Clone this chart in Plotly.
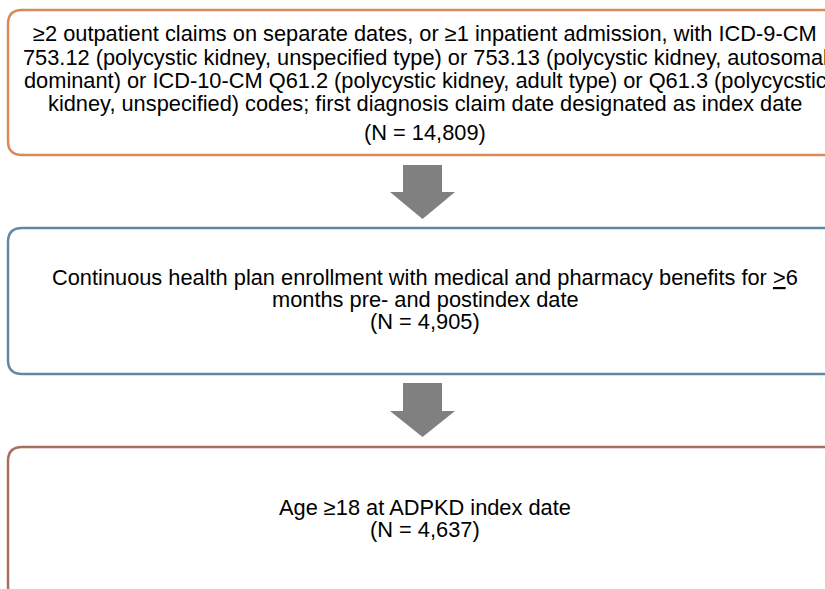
import plotly.graph_objects as go

# ---- data ----
step_lines = [
    ["≥2 outpatient claims on separate dates, or ≥1 inpatient admission, with ICD-9-CM",
     "753.12 (polycystic kidney, unspecified type) or 753.13 (polycystic kidney, autosomal",
     "dominant) or ICD-10-CM Q61.2 (polycystic kidney, adult type) or Q61.3 (polycycstic",
     "kidney, unspecified) codes; first diagnosis claim date designated as index date"],
    ["Continuous health plan enrollment with medical and pharmacy benefits for <u>></u>6",
     "months pre- and postindex date"],
    ["Age ≥18 at ADPKD index date"],
]
n_values = [14809, 4905, 4637]

# ---- layout / style ----
W, H = 825, 589
box_colors = ["#D9895A", "#6387A6", "#A96E61"]
box_y = [(10, 155), (228, 374), (447, 600)]
box_x = (8, 842)
radius = 14
line_y = [[33, 57, 80, 103], [277, 299], [507]]
n_y = [132, 321, 529]
arrow_y = [(165, 192, 219), (383, 411, 437)]
cx = 425
FONT = "Liberation Sans, Arial, sans-serif"
FS = 21.8

fig = go.Figure()
shapes = []
annotations = []

def rrect(x0, y0, x1, y1, r):
    return (f"M {x0+r},{y0} L {x1-r},{y0} Q {x1},{y0} {x1},{y0+r} "
            f"L {x1},{y1-r} Q {x1},{y1} {x1-r},{y1} L {x0+r},{y1} "
            f"Q {x0},{y1} {x0},{y1-r} L {x0},{y0+r} Q {x0},{y0} {x0+r},{y0} Z")

for i, lines in enumerate(step_lines):
    y0, y1 = box_y[i]
    shapes.append(dict(type="path", path=rrect(box_x[0], y0, box_x[1], y1, radius),
                       xref="x", yref="y", line=dict(color=box_colors[i], width=2.5),
                       fillcolor="white", layer="below"))
    for ln, yy in zip(lines, line_y[i]):
        annotations.append(dict(x=cx, y=yy, xref="x", yref="y", text=ln, showarrow=False,
                                xanchor="center", yanchor="middle",
                                font=dict(family=FONT, size=FS, color="black")))
    annotations.append(dict(x=cx, y=n_y[i], xref="x", yref="y",
                            text=f"(N = {n_values[i]:,})", showarrow=False,
                            xanchor="center", yanchor="middle",
                            font=dict(family=FONT, size=FS, color="black")))

for (ys, yh, yt) in arrow_y:
    p = (f"M 403,{ys} L 442,{ys} L 442,{yh} L 455,{yh} L 422.5,{yt} "
         f"L 390,{yh} L 403,{yh} Z")
    shapes.append(dict(type="path", path=p, xref="x", yref="y",
                       line=dict(width=0), fillcolor="#808080"))

fig.update_layout(
    width=W, height=H, margin=dict(l=0, r=0, t=0, b=0),
    paper_bgcolor="white", plot_bgcolor="white",
    xaxis=dict(range=[0, W], visible=False, fixedrange=True),
    yaxis=dict(range=[H, 0], visible=False, fixedrange=True),
    shapes=shapes, annotations=annotations, showlegend=False,
)
fig.write_html(
    "out.html",
    config={"displayModeBar": False},
    post_script="document.body.style.margin='0';document.body.style.overflow='hidden';",
)
